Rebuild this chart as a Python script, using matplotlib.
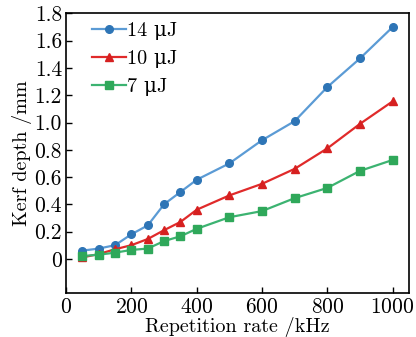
import matplotlib
matplotlib.use("Agg")
import matplotlib.pyplot as plt

plt.rcParams['font.family'] = ['cmr10', 'DejaVu Serif']
plt.rcParams['mathtext.fontset'] = 'cm'
plt.rcParams['axes.formatter.use_mathtext'] = True

# repetition rate (kHz)
rate = [50, 100, 150, 200, 250, 300, 350, 400, 500, 600, 700, 800, 900, 1000]

# kerf depth (mm)
depth_14 = [0.06, 0.075, 0.10, 0.18, 0.245, 0.40, 0.49, 0.58, 0.70, 0.87, 1.01, 1.26, 1.47, 1.70]
depth_10 = [0.01, 0.035, 0.07, 0.10, 0.145, 0.21, 0.27, 0.36, 0.465, 0.55, 0.66, 0.81, 0.99, 1.155]
depth_7 = [0.02, 0.03, 0.045, 0.065, 0.075, 0.13, 0.165, 0.22, 0.305, 0.35, 0.445, 0.52, 0.645, 0.725]

labels = ['14 \u03bcJ', '10 \u03bcJ', '7 \u03bcJ']

fig = plt.figure(figsize=(4.16, 3.37), dpi=100)
ax = fig.add_axes([0.159, 0.131, 0.824, 0.829])

ax.plot(rate, depth_14, '-o', color='#5b9bd5', mfc='#2e75b6', mec='#2e75b6',
        lw=1.6, ms=5.5, label=labels[0])
ax.plot(rate, depth_10, '-^', color='#e02a2a', mfc='#d62020', mec='#d62020',
        lw=1.6, ms=5.5, label=labels[1])
ax.plot(rate, depth_7, '-s', color='#3cb371', mfc='#2fa85a', mec='#2fa85a',
        lw=1.6, ms=5.5, label=labels[2])

ax.set_xlim(0, 1050)
ax.set_ylim(-0.25, 1.8)
ax.set_xticks([0, 200, 400, 600, 800, 1000])
ax.set_yticks([0, 0.2, 0.4, 0.6, 0.8, 1.0, 1.2, 1.4, 1.6, 1.8])
ax.set_yticklabels(['0', '0.2', '0.4', '0.6', '0.8', '1.0', '1.2', '1.4', '1.6', '1.8'])
ax.tick_params(direction='in', labelsize=15.5, length=4, width=1, pad=3)
ax.set_xlabel('Repetition rate /kHz', fontsize=14.5, labelpad=0)
ax.set_ylabel('Kerf depth /mm', fontsize=14.5, labelpad=2)
for s in ax.spines.values():
    s.set_linewidth(1.2)

ax.legend(loc='upper left', bbox_to_anchor=(0.075, 0.97), frameon=False,
          fontsize=14.5, handlelength=1.7, handletextpad=0.05, labelspacing=0.5,
          borderaxespad=0, borderpad=0)

fig.savefig('out.png', dpi=100)
